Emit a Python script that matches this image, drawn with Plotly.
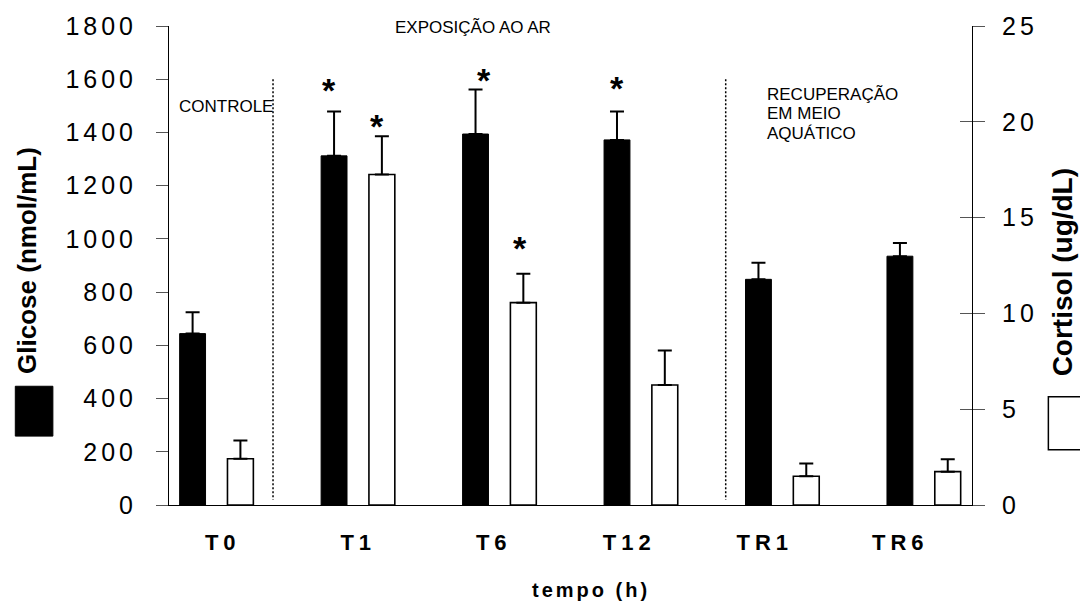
import plotly.graph_objects as go

# ---------------- data ----------------
categories = ["T0", "T1", "T6", "T12", "TR1", "TR6"]
glicose = [644, 1312, 1394, 1372, 848, 935]
glicose_err = [80, 167, 167, 107, 62, 50]
cortisol = [2.41, 17.25, 10.56, 6.26, 1.50, 1.74]
cortisol_err = [0.95, 2.0, 1.51, 1.8, 0.66, 0.65]
glicose_sig = [False, True, True, True, False, False]
cortisol_sig = [False, True, True, False, False, False]
glicose_ticks = [0, 200, 400, 600, 800, 1000, 1200, 1400, 1600, 1800]
cortisol_ticks = [0, 5, 10, 15, 20, 25]

# ---------------- style ----------------
FONT = "Arial, Liberation Sans, sans-serif"
LS_NUM = 4      # letter spacing of numeric tick labels (px)
LS_CAT = 5      # letter spacing of category labels (px)
BAR_W = 0.183
BLACK_OFF = -0.26
WHITE_OFF = 0.078
STAR_SIZE = 34
# asterisk pixel offsets (dx, dy) relative to the top of the error bar
star_glic_off = [(0, 0), (-5, 21), (8, 10), (0, 23), (0, 0), (0, 0)]
star_cort_off = [(0, 0), (-5, 10), (-3, 26), (0, 0), (0, 0), (0, 0)]


def spaced(t, ls):
    return f'<span style="letter-spacing:{ls}px">{t}</span>'


xpos = list(range(len(categories)))

fig = go.Figure()
fig.add_trace(go.Bar(
    x=xpos, y=glicose, width=BAR_W, offset=BLACK_OFF,
    marker=dict(color="black", line=dict(color="black", width=1)),
    error_y=dict(type="data", symmetric=False, array=glicose_err,
                 arrayminus=[0] * len(glicose_err), color="black",
                 thickness=2, width=7),
    yaxis="y", showlegend=False,
))
fig.add_trace(go.Bar(
    x=xpos, y=cortisol, width=BAR_W, offset=WHITE_OFF,
    marker=dict(color="white", line=dict(color="black", width=1.6)),
    error_y=dict(type="data", symmetric=False, array=cortisol_err,
                 arrayminus=[0] * len(cortisol_err), color="black",
                 thickness=2, width=7),
    yaxis="y2", showlegend=False,
))
# category labels live on a second x axis (labels slightly differently spaced than bars)
fig.add_trace(go.Scatter(x=xpos, y=[None] * len(xpos), xaxis="x2", yaxis="y",
                         showlegend=False, hoverinfo="skip"))
# dummy trace for the inside-tick axis on the right
fig.add_trace(go.Scatter(x=[None], y=[None], yaxis="y3", showlegend=False,
                         hoverinfo="skip"))

annotations = []
star_font = dict(family=FONT, size=STAR_SIZE, color="black", weight="bold")
for i, (v, e, s) in enumerate(zip(glicose, glicose_err, glicose_sig)):
    if s:
        dx, dy = star_glic_off[i]
        annotations.append(dict(
            x=xpos[i] + BLACK_OFF + BAR_W / 2, y=v + e, xref="x", yref="y",
            text="*", showarrow=False, yanchor="middle",
            xshift=dx, yshift=dy, font=star_font))
for i, (v, e, s) in enumerate(zip(cortisol, cortisol_err, cortisol_sig)):
    if s:
        dx, dy = star_cort_off[i]
        annotations.append(dict(
            x=xpos[i] + WHITE_OFF + BAR_W / 2, y=v + e, xref="x", yref="y2",
            text="*", showarrow=False, yanchor="middle",
            xshift=dx, yshift=dy, font=star_font))

small = dict(family=FONT, size=17, color="black")
annotations += [
    dict(x=0.3785, y=0.997, xref="paper", yref="paper", text="EXPOSIÇÃO AO AR",
         showarrow=False, xanchor="center", yanchor="middle", font=small),
    dict(x=0.0096, y=0.8323, xref="paper", yref="paper", text="CONTROLE",
         showarrow=False, xanchor="left", yanchor="middle", font=small),
    dict(x=0.742, y=0.8567, xref="paper", yref="paper", text="RECUPERAÇÃO",
         showarrow=False, xanchor="left", yanchor="middle", font=small),
    dict(x=0.742, y=0.8171, xref="paper", yref="paper", text="EM MEIO",
         showarrow=False, xanchor="left", yanchor="middle", font=small),
    dict(x=0.742, y=0.7754, xref="paper", yref="paper", text="AQUÁTICO",
         showarrow=False, xanchor="left", yanchor="middle", font=small),
    dict(x=-0.176, y=0.511, xref="paper", yref="paper", text="Glicose (nmol/mL)",
         textangle=-90, showarrow=False, xanchor="center", yanchor="middle",
         font=dict(family=FONT, size=26, color="black", weight="bold")),
    dict(x=1.1138, y=0.4865, xref="paper", yref="paper", text="Cortisol (ug/dL)",
         textangle=-90, showarrow=False, xanchor="center", yanchor="middle",
         font=dict(family=FONT, size=28, color="black", weight="bold")),
    dict(x=0.5255, y=-0.178, xref="paper", yref="paper",
         text=spaced("tempo (h)", 3), showarrow=False,
         xanchor="center", yanchor="middle",
         font=dict(family=FONT, size=20, color="black", weight="bold")),
]

shapes = [
    dict(type="line", xref="x", yref="y", x0=0.4, x1=0.4, y0=1600, y1=20,
         line=dict(color="black", width=1.5, dash="2px,2px")),
    dict(type="line", xref="x", yref="y", x0=3.6, x1=3.6, y0=1600, y1=20,
         line=dict(color="black", width=1.5, dash="2px,2px")),
    dict(type="rect", xref="paper", yref="paper", x0=-0.1914, x1=-0.1446,
         y0=0.1438, y1=0.2479, fillcolor="black", line=dict(color="black", width=1)),
    dict(type="rect", xref="paper", yref="paper", x0=1.0951, x1=1.1374,
         y0=0.1156, y1=0.2260, fillcolor="white", line=dict(color="black", width=1.5)),
]

fig.update_layout(
    width=1080, height=603,
    margin=dict(l=169, r=108, t=26, b=98),
    paper_bgcolor="white", plot_bgcolor="white",
    barmode="overlay",
    xaxis=dict(range=[-0.3353, 5.341], showticklabels=False,
               showline=True, linecolor="black", linewidth=1,
               ticks="", showgrid=False, zeroline=False),
    xaxis2=dict(range=[-0.3966, 5.5295], overlaying="x", anchor="y", side="bottom",
                tickmode="array", tickvals=xpos,
                ticktext=[spaced(c, LS_CAT) for c in categories],
                showline=False, ticks="", showgrid=False, zeroline=False,
                ticklabelstandoff=22,
                tickfont=dict(family=FONT, size=22, color="black", weight="bold")),
    yaxis=dict(range=[0, 1800], tickmode="array", tickvals=glicose_ticks,
               ticktext=[spaced(str(t), LS_NUM) for t in glicose_ticks],
               showline=True, linecolor="black", linewidth=1,
               ticks="outside", ticklen=12, tickcolor="#555", tickwidth=1,
               showgrid=False, zeroline=False, ticklabelstandoff=14,
               tickfont=dict(family=FONT, size=25, color="black")),
    yaxis2=dict(range=[0, 25], overlaying="y", side="right", anchor="x",
                tickmode="array", tickvals=cortisol_ticks,
                ticktext=[spaced(str(t), LS_NUM) for t in cortisol_ticks],
                showline=True, linecolor="black", linewidth=1,
                ticks="outside", ticklen=12, tickcolor="#555", tickwidth=1,
                showgrid=False, zeroline=False, ticklabelstandoff=12,
                tickfont=dict(family=FONT, size=25, color="black")),
    yaxis3=dict(range=[0, 25], overlaying="y", side="right", anchor="x",
                tickmode="array", tickvals=cortisol_ticks, showticklabels=False,
                ticks="inside", ticklen=12, tickcolor="#555", tickwidth=1,
                showline=False, showgrid=False, zeroline=False),
    annotations=annotations,
    shapes=shapes,
)

fig.write_html("out.html")
